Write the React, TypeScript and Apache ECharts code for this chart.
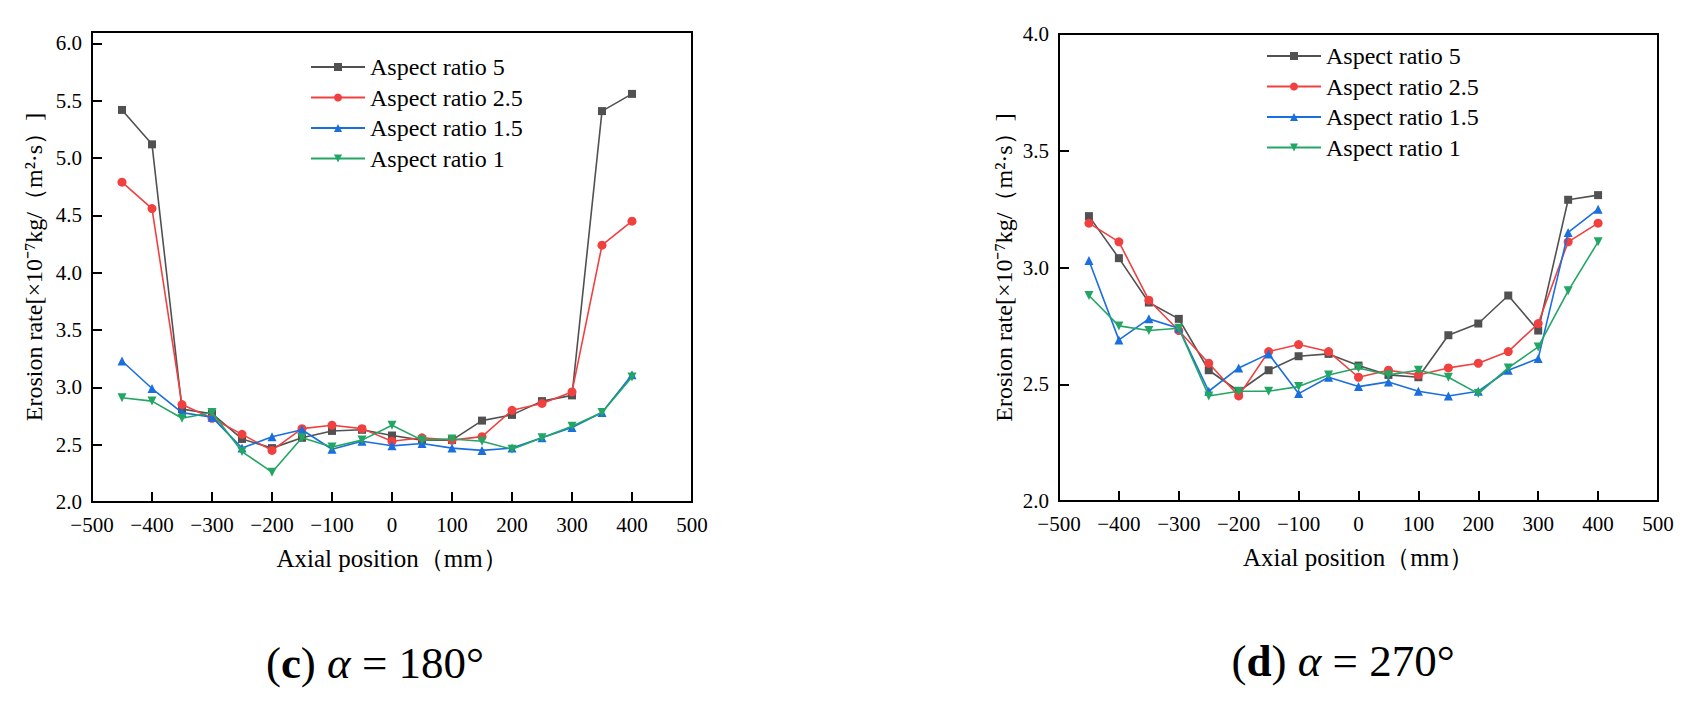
import React, { useEffect, useRef } from "react";
import * as echarts from "echarts";

// Axial positions along the pipe (mm)
const positions = [-450, -400, -350, -300, -250, -200, -150, -100, -50, 0, 50, 100, 150, 200, 250, 300, 350, 400];

const seriesNames = ["Aspect ratio 5", "Aspect ratio 2.5", "Aspect ratio 1.5", "Aspect ratio 1"];
const seriesColors = ["#515151", "#f14040", "#1a6fdf", "#23a664"];
const seriesSymbols = ["rect", "circle", "triangle", "triangle"];
const seriesRotate = [0, 0, 0, 180];

// Erosion rate, alpha = 180 deg
const ratio5_180 = [5.42, 5.12, 2.81, 2.77, 2.55, 2.47, 2.56, 2.62, 2.63, 2.58, 2.54, 2.54, 2.71, 2.76, 2.88, 2.93, 5.41, 5.56];
const ratio25_180 = [4.79, 4.56, 2.85, 2.73, 2.59, 2.45, 2.64, 2.67, 2.64, 2.53, 2.56, 2.54, 2.57, 2.8, 2.86, 2.96, 4.24, 4.45];
const ratio15_180 = [3.23, 2.99, 2.78, 2.74, 2.47, 2.57, 2.63, 2.46, 2.53, 2.49, 2.51, 2.47, 2.45, 2.47, 2.56, 2.65, 2.78, 3.11];
const ratio1_180 = [2.91, 2.88, 2.73, 2.78, 2.44, 2.26, 2.56, 2.48, 2.54, 2.67, 2.54, 2.55, 2.53, 2.46, 2.56, 2.66, 2.78, 3.09];

// Erosion rate, alpha = 270 deg
const ratio5_270 = [3.22, 3.04, 2.85, 2.78, 2.56, 2.47, 2.56, 2.62, 2.63, 2.58, 2.54, 2.53, 2.71, 2.76, 2.88, 2.73, 3.29, 3.31];
const ratio25_270 = [3.19, 3.11, 2.86, 2.73, 2.59, 2.45, 2.64, 2.67, 2.64, 2.53, 2.56, 2.54, 2.57, 2.59, 2.64, 2.76, 3.11, 3.19];
const ratio15_270 = [3.03, 2.69, 2.78, 2.74, 2.47, 2.57, 2.63, 2.46, 2.53, 2.49, 2.51, 2.47, 2.45, 2.47, 2.56, 2.61, 3.15, 3.25];
const ratio1_270 = [2.88, 2.75, 2.73, 2.74, 2.45, 2.47, 2.47, 2.49, 2.54, 2.57, 2.54, 2.56, 2.53, 2.46, 2.57, 2.66, 2.9, 3.11];

const panels = [
  { values: [ratio5_180, ratio25_180, ratio15_180, ratio1_180], yMax: 6.1, caption: "180°" },
  { values: [ratio5_270, ratio25_270, ratio15_270, ratio1_270], yMax: 4.0, caption: "270°" },
];
const captionLetters = ["c", "d"];

const yAxisName = "Erosion rate[×10⁻⁷kg/（m²·s）]";
const xAxisName = "Axial position（mm）";

const FONT = "'Liberation Serif', 'Times New Roman', serif";

export default function App() {
  const ref = useRef<HTMLDivElement>(null);

  useEffect(() => {
    if (!ref.current) return;
    const chart = echarts.init(ref.current, undefined, { renderer: "svg" });

    const grids = [
      { left: 92, top: 32, width: 600, height: 470 },
      { left: 1059, top: 34, width: 599, height: 467 },
    ];
    const yNameGap = [46, 43];
    const legendPos = [
      { left: 310, top: 55 },
      { left: 1266, top: 44 },
    ];
    const captionPos = [
      { x: 375, y: 663 },
      { x: 1343, y: 661 },
    ];

    const fmtX = (v: number) => (v < 0 ? "\u2212" + Math.abs(v) : String(v));

    const option: any = {
      animation: false,
      backgroundColor: "#ffffff",
      textStyle: { fontFamily: FONT, color: "#000" },
      grid: grids.map((g) => ({
        ...g,
        show: true,
        borderColor: "#000",
        borderWidth: 2,
        backgroundColor: "transparent",
        containLabel: false,
      })),
      legend: panels.map((_, i) => ({
        orient: "vertical",
        left: legendPos[i].left,
        top: legendPos[i].top,
        data: seriesNames,
        itemWidth: 54,
        itemHeight: 10,
        itemGap: 6.5,
        padding: 0,
        selectedMode: false,
        textStyle: { fontFamily: FONT, fontSize: 24, color: "#000", lineHeight: 24 },
      })),
      xAxis: panels.map((_, i) => ({
        type: "value",
        gridIndex: i,
        min: -500,
        max: 500,
        interval: 100,
        name: xAxisName,
        nameLocation: "middle",
        nameGap: 44,
        nameTextStyle: { fontFamily: FONT, fontSize: 25, color: "#000" },
        axisLine: { show: true, onZero: false, lineStyle: { color: "#000", width: 2 } },
        axisTick: { show: true, inside: true, length: 10, lineStyle: { color: "#000", width: 2 } },
        axisLabel: { fontFamily: FONT, fontSize: 21, color: "#000", margin: 12, formatter: fmtX },
        splitLine: { show: false },
      })),
      yAxis: panels.map((p, i) => ({
        type: "value",
        gridIndex: i,
        min: 2,
        max: p.yMax,
        interval: 0.5,
        name: yAxisName,
        nameLocation: "middle",
        nameRotate: 90,
        nameGap: yNameGap[i],
        nameTextStyle: { fontFamily: FONT, fontSize: 24, color: "#000" },
        axisLine: { show: true, onZero: false, lineStyle: { color: "#000", width: 2 } },
        axisTick: { show: true, inside: true, length: 10, lineStyle: { color: "#000", width: 2 } },
        axisLabel: {
          fontFamily: FONT,
          fontSize: 21,
          lineHeight: 18,
          color: "#000",
          margin: 10,
          showMaxLabel: p.yMax === 4.0,
          formatter: (v: number) => (Math.abs(v * 2 - Math.round(v * 2)) < 1e-6 ? v.toFixed(1) : ""),
        },
        splitLine: { show: false },
      })),
      series: panels.flatMap((p, i) =>
        seriesNames.map((name, k) => ({
          name,
          type: "line",
          xAxisIndex: i,
          yAxisIndex: i,
          data: positions.map((x, j) => [x, p.values[k][j]]),
          symbol: seriesSymbols[k],
          symbolRotate: seriesRotate[k],
          symbolSize: k === 0 ? 8 : 9,
          color: seriesColors[k],
          itemStyle: { color: seriesColors[k] },
          lineStyle: { color: seriesColors[k], width: 1.6 },
          z: 2 + k,
        }))
      ),
      graphic: panels.map((p, i) => ({
        type: "text",
        x: captionPos[i].x,
        y: captionPos[i].y,
        style: {
          text: "({b|" + captionLetters[i] + "}) {i|α} = " + p.caption,
          fontFamily: FONT,
          fontSize: 45,
          fill: "#000",
          align: "center",
          verticalAlign: "middle",
          rich: {
            b: { fontFamily: FONT, fontSize: 45, fontWeight: "bold", fill: "#000" },
            i: { fontFamily: FONT, fontSize: 45, fontStyle: "italic", fill: "#000" },
          },
        },
      })),
    };

    chart.setOption(option);
    return () => chart.dispose();
  }, []);

  return (
    <div
      ref={ref}
      style={{ position: "absolute", left: 0, top: 0, width: 1699, height: 702, background: "#fff" }}
    />
  );
}
